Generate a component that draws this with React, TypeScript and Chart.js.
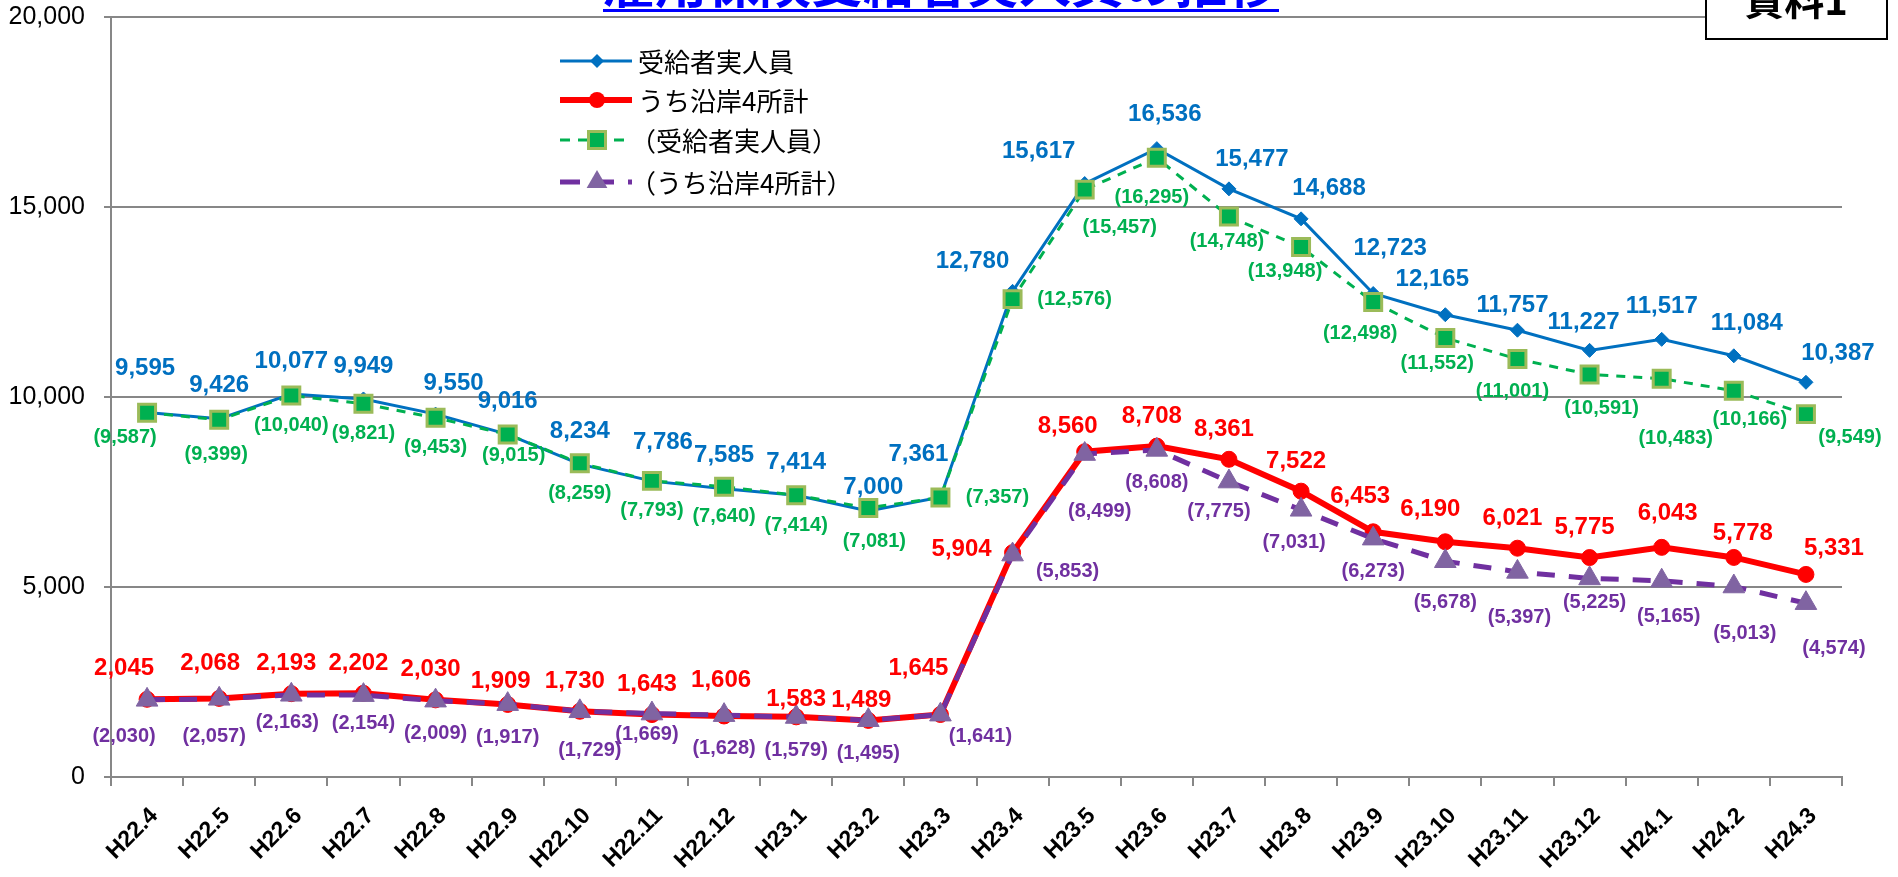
import React, { useEffect, useRef } from "react";
import { Chart, registerables } from "chart.js";

Chart.register(...registerables);

// ---------- data ----------
const MONTHS = [
  "H22.4", "H22.5", "H22.6", "H22.7", "H22.8", "H22.9", "H22.10", "H22.11", "H22.12",
  "H23.1", "H23.2", "H23.3", "H23.4", "H23.5", "H23.6", "H23.7", "H23.8", "H23.9",
  "H23.10", "H23.11", "H23.12", "H24.1", "H24.2", "H24.3",
];

const RECIPIENTS = [
  9595, 9426, 10077, 9949, 9550, 9016, 8234, 7786, 7585, 7414, 7000, 7361,
  12780, 15617, 16536, 15477, 14688, 12723, 12165, 11757, 11227, 11517, 11084, 10387,
];
const COASTAL = [
  2045, 2068, 2193, 2202, 2030, 1909, 1730, 1643, 1606, 1583, 1489, 1645,
  5904, 8560, 8708, 8361, 7522, 6453, 6190, 6021, 5775, 6043, 5778, 5331,
];
const RECIPIENTS_PAREN = [
  9587, 9399, 10040, 9821, 9453, 9015, 8259, 7793, 7640, 7414, 7081, 7357,
  12576, 15457, 16295, 14748, 13948, 12498, 11552, 11001, 10591, 10483, 10166, 9549,
];
const COASTAL_PAREN = [
  2030, 2057, 2163, 2154, 2009, 1917, 1729, 1669, 1628, 1579, 1495, 1641,
  5853, 8499, 8608, 7775, 7031, 6273, 5678, 5397, 5225, 5165, 5013, 4574,
];

const Y_TICKS = [0, 5000, 10000, 15000, 20000];

const SERIES_NAMES = ["受給者実人員", "うち沿岸4所計", "（受給者実人員）", "（うち沿岸4所計）"];
const TITLE = "雇用保険受給者実人員の推移";
const BADGE = "資料1";

// ---------- styles ----------
const BLUE = "#0070C0";
const RED = "#FF0000";
const GREEN = "#00B050";
const OLIVE = "#9BBB59";
const PURPLE = "#7030A0";
const PURPLE_FILL = "#8064A2";
const GRID = "#878787";

const NUM_FONT = "bold 24px 'Liberation Sans'";
const PAREN_FONT = "bold 20px 'Liberation Sans'";
const X_FONT = "bold 23px 'Liberation Sans'";

// label placement: default offset + per-point nudges (pixels)
type Off = [number, number];
const LABEL_STYLE: { color: string; font: string; paren: boolean; def: Off; nudge: Record<number, Off> }[] = [
  {
    color: BLUE, font: NUM_FONT, paren: false, def: [0, -33],
    nudge: {
      0: [-2, -44], 4: [18, -31], 7: [11, -39], 10: [5, -24], 11: [-22, -43], 12: [-40, -30],
      13: [-46, -32], 14: [8, -34], 15: [23, -29], 16: [28, -30], 17: [17, -45], 18: [-13, -35],
      19: [-5, -25], 20: [-6, -28], 22: [13, -32], 23: [32, -29],
    },
  },
  {
    color: RED, font: NUM_FONT, paren: false, def: [-5, -30],
    nudge: {
      0: [-23, -31], 1: [-9, -35], 5: [-7, -23], 8: [-3, -36], 9: [0, -17], 10: [-7, -20],
      11: [-22, -46], 12: [-51, -3], 13: [-17, -25], 17: [-13, -35], 18: [-15, -32],
      21: [6, -34], 22: [9, -24], 23: [28, -26],
    },
  },
  {
    color: GREEN, font: PAREN_FONT, paren: true, def: [0, 30],
    nudge: {
      0: [-22, 25], 1: [-3, 35], 5: [6, 21], 10: [6, 34], 11: [57, 0], 12: [62, 0], 13: [35, 38],
      14: [-5, 40], 15: [-2, 25], 16: [-16, 25], 17: [-13, 31], 18: [-8, 25], 19: [-5, 33],
      20: [12, 34], 21: [14, 60], 22: [16, 29], 23: [44, 23],
    },
  },
  {
    color: PURPLE, font: PAREN_FONT, paren: true, def: [0, 33],
    nudge: {
      0: [-23, 37], 1: [-5, 38], 2: [-4, 28], 3: [0, 28], 6: [10, 39], 7: [-5, 21], 11: [40, 22],
      12: [55, 17], 13: [15, 57], 15: [-10, 30], 16: [-7, 33], 18: [0, 41], 19: [2, 46],
      20: [5, 24], 21: [7, 36], 22: [11, 47], 23: [28, 45],
    },
  },
];

const fmt = (v: number) => v.toLocaleString("en-US");

const valueLabels = {
  id: "valueLabels",
  afterDatasetsDraw(chart: any) {
    const ctx = chart.ctx;
    LABEL_STYLE.forEach((st, di) => {
      const meta = chart.getDatasetMeta(di);
      const data = chart.data.datasets[di].data as number[];
      ctx.save();
      ctx.font = st.font;
      ctx.fillStyle = st.color;
      ctx.textAlign = "center";
      ctx.textBaseline = "middle";
      meta.data.forEach((pt: any, i: number) => {
        const [dx, dy] = st.nudge[i] ?? st.def;
        const txt = st.paren ? `(${fmt(data[i])})` : fmt(data[i]);
        ctx.fillText(txt, pt.x + dx, pt.y + dy);
      });
      ctx.restore();
    });
  },
};

// rotated category labels, placed at the x scale's tick pixels
const xLabels = {
  id: "xLabels",
  afterDraw(chart: any) {
    const sc = chart.scales.x;
    const ctx: CanvasRenderingContext2D = chart.ctx;
    ctx.save();
    ctx.font = X_FONT;
    ctx.fillStyle = "#000";
    ctx.textAlign = "right";
    ctx.textBaseline = "top";
    sc.ticks.forEach((t: any, i: number) => {
      const x = sc.getPixelForTick(i);
      ctx.save();
      ctx.translate(x - 1, sc.top + 27);
      ctx.rotate(-Math.PI / 4);
      ctx.fillText(String(sc.getLabelForValue(t.value)), 0, 0);
      ctx.restore();
    });
    ctx.restore();
  },
};

function marker(ctx: CanvasRenderingContext2D, kind: string, x: number, y: number) {
  ctx.save();
  ctx.setLineDash([]);
  if (kind === "diamond") {
    ctx.fillStyle = BLUE;
    ctx.beginPath();
    ctx.moveTo(x, y - 7); ctx.lineTo(x + 7, y); ctx.lineTo(x, y + 7); ctx.lineTo(x - 7, y);
    ctx.closePath(); ctx.fill();
  } else if (kind === "circle") {
    ctx.fillStyle = RED;
    ctx.beginPath(); ctx.arc(x, y, 8, 0, Math.PI * 2); ctx.fill();
  } else if (kind === "square") {
    ctx.fillStyle = GREEN; ctx.strokeStyle = OLIVE; ctx.lineWidth = 3;
    ctx.beginPath(); ctx.rect(x - 8.5, y - 8.5, 17, 17); ctx.fill(); ctx.stroke();
  } else {
    ctx.fillStyle = PURPLE_FILL;
    ctx.beginPath();
    ctx.moveTo(x, y - 12); ctx.lineTo(x + 10.4, y + 6); ctx.lineTo(x - 10.4, y + 6);
    ctx.closePath(); ctx.fill();
  }
  ctx.restore();
}

const decorations = {
  id: "decorations",
  afterDraw(chart: any) {
    const ctx: CanvasRenderingContext2D = chart.ctx;
    const area = chart.chartArea;
    // legend
    const lx0 = area.left + 449;
    const lx1 = lx0 + 72;
    const mx = lx0 + 37;
    const tx = lx0 + 78;
    const rows = [
      { y: area.top + 44, color: BLUE, w: 3, dash: [] as number[], m: "diamond", dx: 0 },
      { y: area.top + 83, color: RED, w: 6, dash: [], m: "circle", dx: 0 },
      { y: area.top + 123, color: GREEN, w: 3, dash: [10, 8], m: "square", dx: -8 },
      { y: area.top + 165, color: PURPLE, w: 5, dash: [20, 14], m: "triangle", dx: -8 },
    ];
    rows.forEach((r, i) => {
      ctx.save();
      ctx.strokeStyle = r.color;
      ctx.lineWidth = r.w;
      ctx.setLineDash(r.dash);
      ctx.beginPath();
      ctx.moveTo(lx0, r.y);
      ctx.lineTo(lx1, r.y);
      ctx.stroke();
      ctx.restore();
      marker(ctx, r.m, mx, r.y);
      ctx.save();
      ctx.fillStyle = "#000";
      ctx.font = "26px 'Noto Sans CJK JP'";
      ctx.textAlign = "left";
      ctx.textBaseline = "middle";
      ctx.fillText(SERIES_NAMES[i], tx + r.dx, r.y + 1);
      ctx.restore();
    });

    // title (mostly cut off at the top)
    ctx.save();
    ctx.font = "bold 52px 'Noto Sans CJK JP'";
    ctx.fillStyle = "#0000FF";
    ctx.textAlign = "center";
    ctx.textBaseline = "alphabetic";
    const cx = 941;
    ctx.fillText(TITLE, cx, 3);
    const tw = ctx.measureText(TITLE).width;
    ctx.fillRect(cx - tw / 2, 9, tw, 3);
    ctx.restore();

    // badge box at top right
    ctx.save();
    ctx.fillStyle = "#fff";
    ctx.fillRect(1706, -5, 181, 44);
    ctx.strokeStyle = "#000";
    ctx.lineWidth = 2;
    ctx.strokeRect(1706, -5, 181, 44);
    ctx.fillStyle = "#000";
    ctx.font = "bold 40px 'Noto Sans CJK JP'";
    ctx.textAlign = "center";
    ctx.textBaseline = "alphabetic";
    ctx.fillText(BADGE, 1796, 15);
    ctx.restore();
  },
};

export default function App() {
  const ref = useRef<HTMLCanvasElement | null>(null);

  useEffect(() => {
    if (!ref.current) return;
    const chart = new Chart(ref.current, {
      type: "line",
      data: {
        labels: MONTHS,
        datasets: [
          {
            label: SERIES_NAMES[0], data: RECIPIENTS, borderColor: BLUE, backgroundColor: BLUE,
            borderWidth: 3, pointStyle: "rectRot", pointRadius: 7, pointBackgroundColor: BLUE,
            pointBorderColor: BLUE, pointBorderWidth: 1, order: 4, tension: 0,
          },
          {
            label: SERIES_NAMES[1], data: COASTAL, borderColor: RED, backgroundColor: RED,
            borderWidth: 6, pointStyle: "circle", pointRadius: 8, pointBackgroundColor: RED,
            pointBorderColor: RED, pointBorderWidth: 1, order: 3, tension: 0,
          },
          {
            label: SERIES_NAMES[2], data: RECIPIENTS_PAREN, borderColor: GREEN, backgroundColor: GREEN,
            borderWidth: 3, borderDash: [9, 8], pointStyle: "rect", pointRadius: 12,
            pointBackgroundColor: GREEN, pointBorderColor: OLIVE, pointBorderWidth: 3, order: 2, tension: 0,
          },
          {
            label: SERIES_NAMES[3], data: COASTAL_PAREN, borderColor: PURPLE, backgroundColor: PURPLE_FILL,
            borderWidth: 5, borderDash: [18, 14], pointStyle: "triangle", pointRadius: 12.5,
            pointBackgroundColor: PURPLE_FILL, pointBorderColor: PURPLE_FILL, pointBorderWidth: 1,
            order: 1, tension: 0,
          },
        ],
      },
      options: {
        responsive: false,
        animation: false,
        layout: { padding: { top: 17, right: 56, left: 0, bottom: 0 } },
        plugins: { legend: { display: false }, tooltip: { enabled: false }, title: { display: false } },
        events: [],
        scales: {
          x: {
            type: "category",
            offset: true,
            grid: { offset: true, drawOnChartArea: false, drawTicks: true, tickLength: 9, color: GRID, lineWidth: 2 },
            border: { color: GRID, width: 2 },
            ticks: { display: false, autoSkip: false },
            afterFit: (s: any) => { s.height = 100; s.paddingLeft = 0; s.paddingRight = 0; },
          },
          y: {
            min: 0,
            max: 20000,
            afterBuildTicks: (s: any) => { s.ticks = Y_TICKS.map((v) => ({ value: v })); },
            grid: { color: GRID, lineWidth: 2, tickLength: 7, drawTicks: true },
            border: { color: GRID, width: 2 },
            ticks: {
              padding: 19, color: "#000",
              font: { family: "'Liberation Sans'", size: 25 },
              callback: (v: any) => Number(v).toLocaleString("en-US"),
            },
            afterFit: (s: any) => { s.width = 111; s.paddingTop = 0; s.paddingBottom = 0; },
          },
        },
      } as any,
      plugins: [valueLabels, xLabels, decorations],
    });
    return () => chart.destroy();
  }, []);

  return (
    <div style={{ position: "fixed", left: 0, top: 0, width: 1898, height: 877, background: "#fff" }}>
      <canvas ref={ref} width={1898} height={877} style={{ display: "block", width: 1898, height: 877 }} />
    </div>
  );
}
